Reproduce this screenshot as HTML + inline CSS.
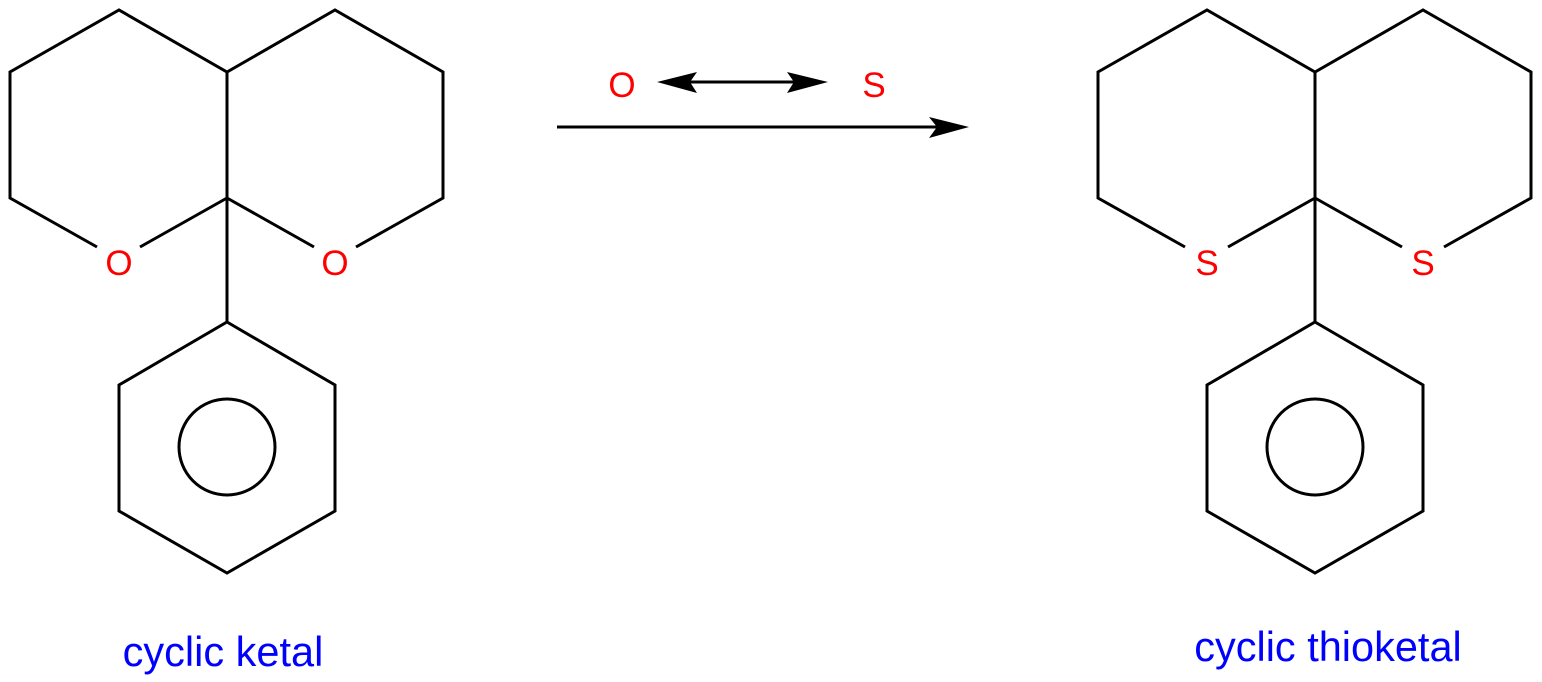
<!DOCTYPE html>
<html><head><meta charset="utf-8"><style>html,body{margin:0;padding:0;background:#fff}svg{display:block}</style></head><body>
<svg width="1542" height="682" viewBox="0 0 1542 682" xmlns="http://www.w3.org/2000/svg">
<defs>
<g id="mol" fill="none" stroke="#000" stroke-width="3" stroke-linejoin="miter">
<polyline points="97,247 10,198 10,72 119,10 227,72 335,10 443,72 443,198 356,247"/>
<line x1="140" y1="247" x2="227" y2="198"/>
<line x1="314" y1="247" x2="227" y2="198"/>
<line x1="227" y1="72" x2="227" y2="322"/>
<polygon points="227,322 335,385 335,511 227,573 119,511 119,385"/>
<circle cx="227" cy="447" r="48"/>
</g>
</defs>
<use href="#mol"/>
<use href="#mol" transform="translate(1088,0)"/>
<g font-family="Liberation Sans, sans-serif" font-size="35" fill="#f00" text-anchor="middle">
<text x="119" y="275">O</text><text x="335" y="275">O</text>
<text x="1207" y="275">S</text><text x="1423" y="275">S</text>
<text x="622" y="97">O</text><text x="874" y="97">S</text>
</g>
<line x1="557" y1="127" x2="940" y2="127" stroke="#000" stroke-width="3"/>
<polygon points="969,127 929,117 937,127 929,138" fill="#000"/>
<line x1="685" y1="82" x2="800" y2="82" stroke="#000" stroke-width="3"/>
<polygon points="657,82 697,72 690,82 697,93" fill="#000"/>
<polygon points="828,82 787,72 794,82 787,93" fill="#000"/>
<g font-family="Liberation Sans, sans-serif" font-size="41.5" fill="#00f" text-anchor="middle">
<text x="223" y="666">cyclic ketal</text>
<text x="1328" y="661">cyclic thioketal</text>
</g>
</svg>
</body></html>
